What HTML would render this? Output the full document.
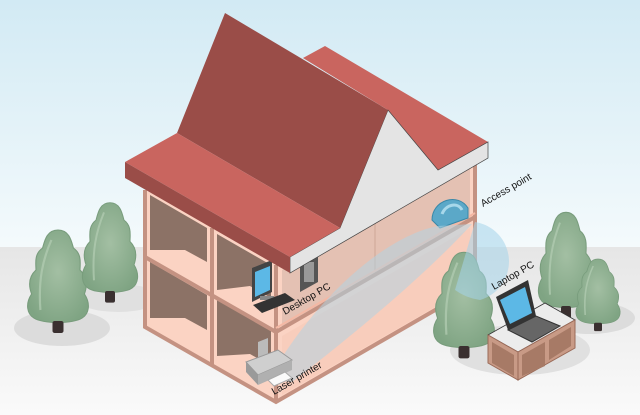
<!DOCTYPE html>
<html><head><meta charset="utf-8"><style>
html,body{margin:0;padding:0;background:#fff}
svg{display:block}
text{font-family:"Liberation Sans",sans-serif;font-size:10px;fill:#111}
</style></head><body>
<svg width="640" height="415" viewBox="0 0 640 415" xmlns="http://www.w3.org/2000/svg">
<defs>
<linearGradient id="sky" x1="0" y1="0" x2="0" y2="1">
<stop offset="0" stop-color="#d2eaf4"/><stop offset="1" stop-color="#f4fafc"/></linearGradient>
<linearGradient id="gr" x1="0" y1="0" x2="0" y2="1">
<stop offset="0" stop-color="#e6e6e6"/><stop offset="1" stop-color="#fafafa"/></linearGradient>
<radialGradient id="tr" cx="0.5" cy="0.45" r="0.6">
<stop offset="0" stop-color="#a3bfa3"/><stop offset="1" stop-color="#7fa483"/></radialGradient>
<g id="tree">
<path d="M0,-90 C10,-90 12,-80 14,-72 C22,-66 20,-56 20,-50 C28,-42 26,-32 24,-26 C30,-16 28,-6 22,-2 C14,4 -14,4 -22,-2 C-28,-6 -30,-16 -24,-26 C-26,-32 -28,-42 -20,-50 C-20,-56 -22,-66 -14,-72 C-12,-80 -10,-90 0,-90Z" fill="url(#tr)" stroke="#789c7c" stroke-width="1"/>
<path d="M-6,-80 C-14,-60 -18,-40 -16,-10" stroke="#b4cdb4" stroke-width="2" fill="none" opacity="0.7"/>
<rect x="-5" y="1" width="10" height="12" rx="2" fill="#3a3030"/>
</g>
</defs>
<rect width="640" height="247" fill="url(#sky)"/>
<rect y="247" width="640" height="168" fill="url(#gr)"/>
<ellipse cx="62" cy="328" rx="48" ry="18" fill="#dcdcdc"/>
<ellipse cx="118" cy="298" rx="42" ry="14" fill="#e0e0e0"/>
<ellipse cx="520" cy="350" rx="70" ry="25" fill="#e0e0e0"/>
<ellipse cx="590" cy="318" rx="45" ry="16" fill="#dcdcdc"/>
<use href="#tree" transform="translate(58,320) scale(1.1,1) translate(-58,-320)" x="58" y="320"/>
<use href="#tree" transform="translate(110,290) scale(1,0.97) translate(-110,-290)" x="110" y="290"/>
<use href="#tree" transform="translate(566,305) scale(1,1.03) translate(-566,-305)" x="566" y="305"/>
<use href="#tree" transform="translate(598,322) scale(0.8,0.7) translate(-598,-322)" x="598" y="322"/>
<polygon points="145,190 145,327 276,402 475,287 475,150 290,257" fill="#fbd3c3"/>
<polygon points="150,195 207,228 207,262 185,250 150,250" fill="#8c7266"/>
<polygon points="217,234 271,265 271,298 250,286 217,290" fill="#8c7266"/>
<polygon points="150,262 207,295 207,330 185,318 150,318" fill="#8c7266"/>
<polygon points="217,300 271,331 271,366 250,354 217,356" fill="#8c7266"/>
<polygon points="282,330 470,222 470,160 282,270" fill="#d2b2a6" opacity="0.55"/>
<polygon points="282,395 470,287 470,228 282,336" fill="#f6c9b8" opacity="0.6"/>
<line x1="375" y1="210" x2="375" y2="272" stroke="#d9b4a5" stroke-width="2"/>
<g fill="none" stroke="#c49282" stroke-width="4">
<polyline points="145,190 145,327 276,402 475,287"/>
<line x1="145" y1="257" x2="276" y2="332"/>
<line x1="212" y1="228" x2="212" y2="365"/>
<line x1="276" y1="265" x2="276" y2="402"/>
<line x1="276" y1="332" x2="475" y2="217"/>
<line x1="475" y1="150" x2="475" y2="287"/>
</g>
<line x1="276" y1="328" x2="475" y2="213" stroke="#f4b8a4" stroke-width="2"/>
<polygon points="300,262 318,252 318,282 300,292" fill="#555"/>
<rect x="304" y="262" width="10" height="20" fill="#999"/>
<polygon points="252,268 272,260 272,292 252,302" fill="#444"/>
<polygon points="255,272 270,266 270,290 255,297" fill="#5cb8e6"/>
<rect x="260" y="296" width="14" height="4" fill="#888"/>
<polygon points="253,305 285,293 295,300 262,313" fill="#333"/>
<path d="M432,220 C432,200 458,192 468,208 L468,218 L440,228 Z" fill="#5ba8c8" stroke="#3a88a8"/>
<path d="M442,214 C446,204 458,202 462,210" stroke="#a8d8ea" stroke-width="3" fill="none"/>
<path d="M438,226 C390,235 320,290 268,380 L292,382 C360,330 430,270 472,224Z" fill="#b2d3e2" opacity="0.55"/>
<polygon points="258,342 268,338 268,356 258,360" fill="#bbb"/>
<polygon points="246,362 278,350 292,360 258,375" fill="#cfcfcf" stroke="#999"/>
<polygon points="246,362 258,375 258,385 246,372" fill="#9a9a9a"/>
<polygon points="258,375 292,360 292,370 258,385" fill="#b0b0b0"/>
<polygon points="268,380 285,372 292,378 274,386" fill="#fafafa" stroke="#aaa"/>
<use href="#tree" transform="translate(464,345) scale(1.1,1.03) translate(-464,-345)" x="464" y="345"/>
<path d="M475,222 A40,40 0 0 1 480,300 A55,55 0 0 1 455,290 Z" fill="#a4d4ea" opacity="0.55"/>
<polygon points="303,58 325,46 488,142 438,170 388,110" fill="#c9655f"/>
<polygon points="340,228 388,110 438,170 488,142 488,158 290,273 290,257" fill="#e4e4e4" stroke="#444" stroke-width="0.7"/>
<polygon points="225,13 388,110 340,228 177,133" fill="#9a4d48"/>
<polygon points="125,162 177,133 340,228 290,257" fill="#c9655f"/>
<polygon points="125,162 290,257 290,273 125,178" fill="#9a4d48"/>
<polygon points="488,335 545,303 575,320 518,352" fill="#ececec" stroke="#333" stroke-width="0.8"/>
<polygon points="488,335 518,352 518,380 488,363" fill="#c89a86" stroke="#9a6a58"/>
<polygon points="518,352 575,320 575,348 518,380" fill="#c89a86" stroke="#9a6a58"/>
<polygon points="492,342 514,355 514,376 492,363" fill="#a77a66"/>
<polygon points="522,355 545,342 545,366 522,376" fill="#a77a66"/>
<polygon points="549,340 571,327 571,346 549,360" fill="#a77a66"/>
<polygon points="496,297 528,280 536,316 508,330" fill="#333"/>
<polygon points="500,300 525,287 532,313 510,324" fill="#5cb8e6"/>
<polygon points="508,330 536,316 560,326 532,342" fill="#666" stroke="#333"/>
<text transform="translate(483,207) rotate(-30)">Access point</text>
<text transform="translate(285,315) rotate(-30)">Desktop PC</text>
<text transform="translate(274,395) rotate(-30)">Laser printer</text>
<text transform="translate(494,290) rotate(-30)">Laptop PC</text>
</svg>
</body></html>
